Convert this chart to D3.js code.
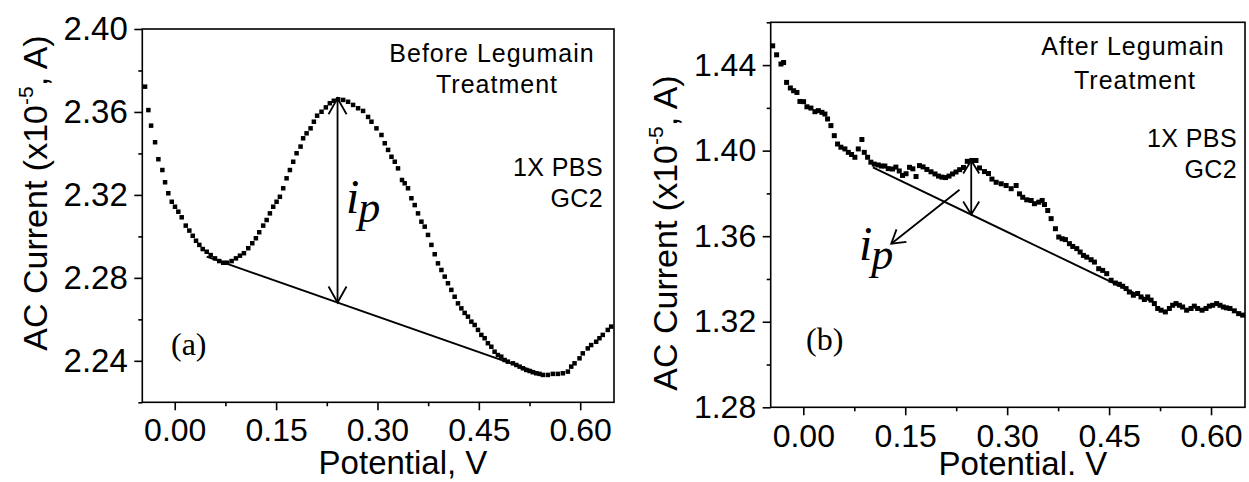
<!DOCTYPE html>
<html lang="en">
<head>
    <meta charset="UTF-8">
    <title>AC Voltammetry Before / After Legumain</title>
    <script src="https://d3js.org/d3.v7.min.js"></script>
    <style>
        body { margin: 0; background: #fff; }
        svg { display: block; }
        text { fill: #000; }
    </style>
</head>
<body>
    <div id="chart"></div>

    <script>
        // panel (a): before legumain treatment
        const potentialA = [-0.0439,-0.0390,-0.0350,-0.0291,-0.0242,-0.0183,-0.0143,-0.0095,-0.0044,0.0004,
            0.0053,0.0103,0.0163,0.0216,0.0266,0.0315,0.0364,0.0414,0.0473,0.0532,
            0.0596,0.0659,0.0718,0.0777,0.0842,0.0906,0.0965,0.1024,0.1088,0.1147,
            0.1201,0.1250,0.1309,0.1360,0.1408,0.1457,0.1507,0.1556,0.1605,0.1655,
            0.1704,0.1753,0.1803,0.1862,0.1900,0.1951,0.2010,0.2059,0.2107,0.2172,
            0.2236,0.2295,0.2354,0.2418,0.2492,0.2565,0.2639,0.2713,0.2787,0.2861,
            0.2911,0.2985,0.3059,0.3108,0.3157,0.3207,0.3256,0.3304,0.3363,0.3403,
            0.3452,0.3502,0.3551,0.3600,0.3650,0.3699,0.3748,0.3798,0.3847,0.3895,
            0.3946,0.3995,0.4043,0.4093,0.4142,0.4191,0.4241,0.4290,0.4339,0.4389,
            0.4438,0.4487,0.4537,0.4586,0.4634,0.4685,0.4733,0.4782,0.4832,0.4881,
            0.4930,0.5004,0.5054,0.5103,0.5152,0.5202,0.5251,0.5299,0.5350,0.5398,
            0.5447,0.5521,0.5595,0.5669,0.5743,0.5817,0.5867,0.5916,0.5990,0.6038,
            0.6112,0.6162,0.6236,0.6285,0.6334,0.6408,0.6458];
        const currentA = [2.3722,2.3609,2.3534,2.3454,2.3372,2.3320,2.3261,2.3208,2.3167,2.3143,
            2.3119,2.3092,2.3052,2.3028,2.3003,2.2979,2.2959,2.2939,2.2926,2.2910,
            2.2894,2.2881,2.2873,2.2873,2.2881,2.2894,2.2907,2.2919,2.2943,2.2967,
            2.2991,2.3020,2.3052,2.3079,2.3111,2.3143,2.3167,2.3191,2.3232,2.3280,
            2.3320,2.3360,2.3401,2.3433,2.3473,2.3497,2.3521,2.3553,2.3582,2.3601,
            2.3622,2.3642,2.3654,2.3661,2.3658,2.3649,2.3634,2.3618,2.3605,2.3576,
            2.3553,2.3521,2.3489,2.3449,2.3417,2.3384,2.3360,2.3328,2.3272,2.3256,
            2.3232,2.3184,2.3151,2.3111,2.3071,2.3047,2.3007,2.2959,2.2914,2.2870,
            2.2838,2.2806,2.2774,2.2742,2.2709,2.2677,2.2653,2.2631,2.2613,2.2589,
            2.2573,2.2549,2.2525,2.2509,2.2485,2.2468,2.2444,2.2428,2.2420,2.2404,
            2.2396,2.2388,2.2380,2.2372,2.2364,2.2356,2.2351,2.2345,2.2340,2.2337,
            2.2332,2.2332,2.2337,2.2337,2.2340,2.2348,2.2372,2.2388,2.2412,2.2436,
            2.2460,2.2476,2.2492,2.2509,2.2525,2.2549,2.2565];

        // panel (b): after legumain treatment
        const potentialB = [-0.0451,-0.0393,-0.0329,-0.0290,-0.0246,-0.0191,-0.0143,-0.0094,-0.0050,0.0004,
            0.0053,0.0112,0.0171,0.0221,0.0274,0.0318,0.0357,0.0406,0.0456,0.0504,
            0.0553,0.0612,0.0662,0.0710,0.0759,0.0809,0.0862,0.0897,0.0946,0.0994,
            0.1044,0.1103,0.1151,0.1200,0.1250,0.1313,0.1362,0.1412,0.1460,0.1512,
            0.1563,0.1612,0.1659,0.1710,0.1762,0.1818,0.1879,0.1938,0.1990,0.2041,
            0.2093,0.2144,0.2196,0.2247,0.2301,0.2357,0.2413,0.2479,0.2541,0.2593,
            0.2666,0.2725,0.2776,0.2838,0.2912,0.2985,0.3059,0.3132,0.3181,0.3229,
            0.3288,0.3353,0.3401,0.3465,0.3515,0.3549,0.3597,0.3647,0.3710,0.3759,
            0.3809,0.3857,0.3916,0.3965,0.4024,0.4074,0.4122,0.4171,0.4235,0.4284,
            0.4347,0.4406,0.4465,0.4529,0.4593,0.4651,0.4700,0.4750,0.4798,0.4857,
            0.4920,0.4970,0.5019,0.5068,0.5118,0.5166,0.5215,0.5265,0.5328,0.5387,
            0.5435,0.5485,0.5534,0.5582,0.5641,0.5706,0.5754,0.5803,0.5868,0.5926,
            0.5975,0.6024,0.6082,0.6132,0.6181,0.6229,0.6279,0.6343,0.6406,0.6465];
        const currentB = [1.4490,1.4448,1.4405,1.4412,1.4319,1.4293,1.4280,1.4272,1.4230,1.4229,
            1.4205,1.4199,1.4182,1.4187,1.4179,1.4171,1.4148,1.4117,1.4070,1.4031,
            1.4016,1.4008,1.3992,1.3982,1.3969,1.4008,1.4052,1.3992,1.3969,1.3946,
            1.3937,1.3933,1.3928,1.3928,1.3916,1.3914,1.3923,1.3905,1.3884,1.3892,
            1.3922,1.3915,1.3879,1.3930,1.3924,1.3912,1.3901,1.3891,1.3881,1.3876,
            1.3874,1.3881,1.3891,1.3900,1.3911,1.3921,1.3950,1.3954,1.3954,1.3919,
            1.3902,1.3893,1.3867,1.3852,1.3845,1.3837,1.3822,1.3837,1.3798,1.3782,
            1.3770,1.3767,1.3752,1.3759,1.3767,1.3748,1.3720,1.3682,1.3635,1.3596,
            1.3588,1.3584,1.3565,1.3552,1.3542,1.3526,1.3510,1.3502,1.3490,1.3479,
            1.3448,1.3440,1.3425,1.3394,1.3381,1.3375,1.3366,1.3355,1.3339,1.3324,
            1.3332,1.3316,1.3304,1.3316,1.3301,1.3285,1.3262,1.3254,1.3246,1.3262,
            1.3277,1.3285,1.3277,1.3269,1.3254,1.3262,1.3273,1.3262,1.3254,1.3262,
            1.3273,1.3277,1.3285,1.3277,1.3269,1.3265,1.3262,1.3251,1.3238,1.3231];

        const xTicks = [0.00, 0.15, 0.30, 0.45, 0.60];
        const xMinor = [0.075, 0.225, 0.375, 0.525];
        const yTicksA = [2.24, 2.28, 2.32, 2.36, 2.40];
        const yMinorA = [2.22, 2.26, 2.30, 2.34, 2.38];
        const yTicksB = [1.28, 1.32, 1.36, 1.40, 1.44];
        const yMinorB = [1.30, 1.34, 1.38, 1.42, 1.46];

        // hand-drawn annotations, in data units
        const baselineA = [[0.0473, 2.2902], [0.5398, 2.2340]];
        const peakArrowA = [[0.2409, 2.3666], [0.2409, 2.2681]];
        const baselineB = [[0.1024, 1.3922], [0.5118, 1.3296]];
        const peakArrowB = [[0.2471, 1.3954], [0.2471, 1.3701]];
        const pointerB = [[0.2299, 1.3817], [0.1294, 1.3565]];

        const W = 1249, H = 482;
        const svg = d3.select("#chart").append("svg")
            .attr("width", W).attr("height", H);

        const defs = svg.append("defs");
        function addHead(id, len, half) {
            defs.append("marker")
                .attr("id", id)
                .attr("viewBox", `${-len - 2} ${-half - 2} ${len + 4} ${2 * half + 4}`)
                .attr("markerUnits", "userSpaceOnUse")
                .attr("markerWidth", len + 4)
                .attr("markerHeight", 2 * half + 4)
                .attr("refX", 0).attr("refY", 0)
                .attr("orient", "auto-start-reverse")
                .append("path")
                .attr("d", `M${-len},${-half} L0,0 L${-len},${half}`)
                .attr("fill", "none")
                .attr("stroke", "#000")
                .attr("stroke-width", 1.8);
        }
        addHead("headA", 16, 9);
        addHead("headB", 13, 8);

        function drawPanel(p) {
            const x = d3.scaleLinear().domain([-0.048, 0.65]).range([p.left, p.right]);
            const y = d3.scaleLinear().domain(p.yDomain).range([p.bottom, p.top]);
            const g = svg.append("g");

            // frame
            g.append("rect")
                .attr("x", p.left).attr("y", p.top)
                .attr("width", p.right - p.left).attr("height", p.bottom - p.top)
                .attr("fill", "none").attr("stroke", "#000").attr("stroke-width", 1.6);

            const xAxis = g.append("g")
                .attr("transform", `translate(0,${p.bottom})`)
                .call(d3.axisBottom(x).tickValues(xTicks).tickSize(8)
                    .tickSizeOuter(0).tickPadding(p.xPad).tickFormat(d3.format(".2f")));
            g.append("g")
                .attr("transform", `translate(0,${p.bottom})`)
                .call(d3.axisBottom(x).tickValues(xMinor).tickSize(4).tickSizeOuter(0).tickFormat(""));

            const yAxis = g.append("g")
                .attr("transform", `translate(${p.left},0)`)
                .call(d3.axisLeft(y).tickValues(p.yTicks).tickSize(8)
                    .tickSizeOuter(0).tickPadding(6.5).tickFormat(d3.format(".2f")));
            g.append("g")
                .attr("transform", `translate(${p.left},0)`)
                .call(d3.axisLeft(y).tickValues(p.yMinor).tickSize(4).tickSizeOuter(0).tickFormat(""));

            g.selectAll(".domain").remove();
            g.selectAll(".tick line").attr("stroke", "#000").attr("stroke-width", 1.6);
            xAxis.selectAll("text")
                .attr("font-family", "'Liberation Sans', Arial, sans-serif")
                .attr("font-size", 32).attr("fill", "#000");
            yAxis.selectAll("text")
                .attr("font-family", "'Liberation Sans', Arial, sans-serif")
                .attr("font-size", p.yFont).attr("fill", "#000");

            // axis titles
            g.append("text")
                .attr("x", p.xTitle[0]).attr("y", p.xTitle[1])
                .attr("text-anchor", "middle")
                .attr("font-family", "'Liberation Sans', Arial, sans-serif")
                .attr("font-size", 33)
                .text(p.xLabel);

            const yt = g.append("text")
                .attr("transform", `translate(${p.yTitle[0]},${p.yTitle[1]}) rotate(-90)`)
                .attr("text-anchor", "middle")
                .attr("font-family", "'Liberation Sans', Arial, sans-serif")
                .attr("font-size", 34);
            yt.append("tspan").text("AC Current (x10");
            yt.append("tspan").attr("font-size", 21).attr("dy", -14).text("-5");
            yt.append("tspan").attr("dy", 14).text(", A)");

            // measured points
            const pts = d3.zip(p.vx, p.iy);
            g.append("g").selectAll("rect")
                .data(pts)
                .join("rect")
                .attr("x", d => x(d[0]) - p.msize / 2)
                .attr("y", d => y(d[1]) - p.msize / 2)
                .attr("width", p.msize).attr("height", p.msize)
                .attr("fill", "#000");

            // baseline and peak-current arrows
            const line = d3.line().x(d => x(d[0])).y(d => y(d[1]));
            g.append("path").attr("d", line(p.baseline))
                .attr("fill", "none").attr("stroke", "#000").attr("stroke-width", 1.9);
            g.append("path").attr("d", line(p.peakArrow))
                .attr("fill", "none").attr("stroke", "#000").attr("stroke-width", 1.8)
                .attr("marker-start", `url(#${p.head})`)
                .attr("marker-end", `url(#${p.head})`);
            if (p.pointer) {
                g.append("path").attr("d", line(p.pointer))
                    .attr("fill", "none").attr("stroke", "#000").attr("stroke-width", 1.8)
                    .attr("marker-end", `url(#${p.head})`);
            }

            // i_p label
            const ip = g.append("text")
                .attr("x", p.ip[0]).attr("y", p.ip[1])
                .attr("font-family", "'Liberation Serif', 'Times New Roman', serif")
                .attr("font-style", "italic")
                .attr("font-size", 48);
            ip.append("tspan").text("i");
            ip.append("tspan").attr("font-size", 44).attr("dy", 9).attr("dx", -1).text("p");

            // panel letter
            g.append("text")
                .attr("x", p.letter[0]).attr("y", p.letter[1])
                .attr("font-family", "'Liberation Serif', 'Times New Roman', serif")
                .attr("font-size", 32)
                .text(p.letterText);

            // condition notes
            const sans = "'Liberation Sans', Arial, sans-serif";
            p.notes.forEach(n => {
                g.append("text")
                    .attr("x", n.x).attr("y", n.y)
                    .attr("text-anchor", n.anchor)
                    .attr("font-family", sans)
                    .attr("font-size", 25)
                    .attr("letter-spacing", n.ls)
                    .text(n.t);
            });
        }

        drawPanel({
            left: 142.3, right: 614, top: 29, bottom: 402.3,
            yDomain: [2.22, 2.40], yTicks: yTicksA, yMinor: yMinorA, yFont: 33,
            xPad: 7.5,
            vx: potentialA, iy: currentA, msize: 4.5,
            baseline: baselineA, peakArrow: peakArrowA, head: "headA",
            xLabel: "Potential, V", xTitle: [403, 474],
            yTitle: [47, 193],
            ip: [346, 213], letter: [171, 355], letterText: "(a)",
            notes: [
                { t: "Before Legumain", x: 492, y: 62, anchor: "middle", ls: 1 },
                { t: "Treatment", x: 497, y: 93, anchor: "middle", ls: 1 },
                { t: "1X PBS", x: 603, y: 176, anchor: "end", ls: 0.4 },
                { t: "GC2", x: 603, y: 207, anchor: "end", ls: 0.4 }
            ]
        });

        drawPanel({
            left: 770.7, right: 1245, top: 22.3, bottom: 407.3,
            yDomain: [1.28, 1.46], yTicks: yTicksB, yMinor: yMinorB, yFont: 32,
            xPad: 8.5,
            vx: potentialB, iy: currentB, msize: 5,
            baseline: baselineB, peakArrow: peakArrowB, pointer: pointerB, head: "headB",
            xLabel: "Potential. V", xTitle: [1023, 475],
            yTitle: [677, 233],
            ip: [859, 260], letter: [806, 350], letterText: "(b)",
            notes: [
                { t: "After Legumain", x: 1133, y: 55, anchor: "middle", ls: 1 },
                { t: "Treatment", x: 1135, y: 89, anchor: "middle", ls: 1 },
                { t: "1X PBS", x: 1237, y: 147, anchor: "end", ls: 0.4 },
                { t: "GC2", x: 1237, y: 178, anchor: "end", ls: 0.4 }
            ]
        });
    </script>
</body>
</html>
